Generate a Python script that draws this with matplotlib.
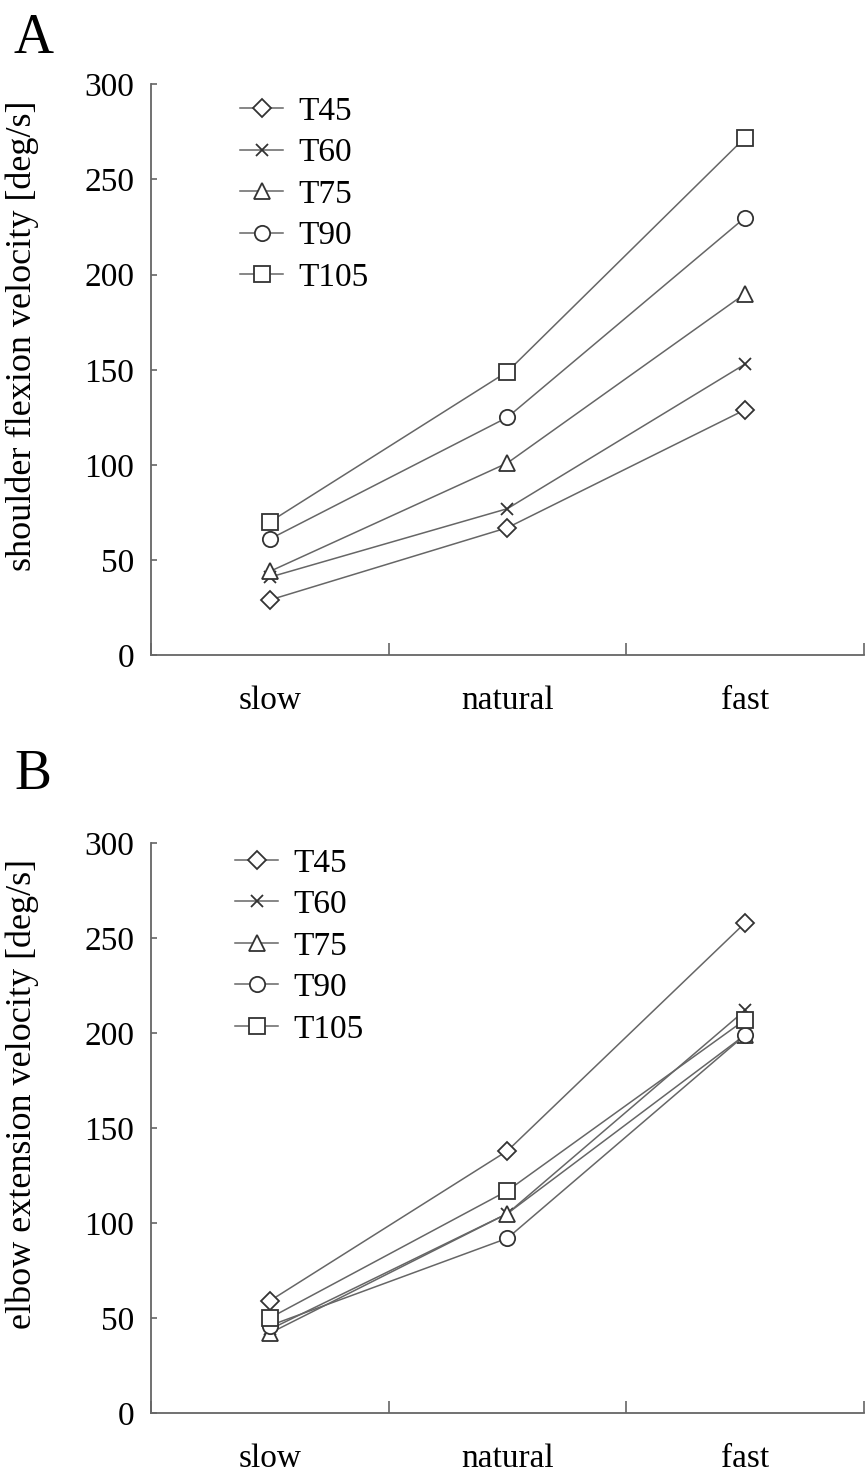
import numpy as np
import matplotlib.pyplot as plt

plt.rcParams['font.family'] = ['Liberation Serif', 'DejaVu Serif']

speeds = ['slow', 'natural', 'fast']
labels = ['T45', 'T60', 'T75', 'T90', 'T105']
markers = ['D', 'x', '^', 'o', 's']
msizes = [9, 9, 12, 11, 11]

# shoulder flexion velocity [deg/s]
shoulder_T45 = [29, 67, 129]
shoulder_T60 = [41, 77, 153]
shoulder_T75 = [44, 101, 190]
shoulder_T90 = [61, 125, 230]
shoulder_T105 = [70, 149, 272]

# elbow extension velocity [deg/s]
elbow_T45 = [59, 138, 258]
elbow_T60 = [44, 105, 212]
elbow_T75 = [42, 105, 199]
elbow_T90 = [46, 92, 199]
elbow_T105 = [50, 117, 207]

shoulder = [shoulder_T45, shoulder_T60, shoulder_T75, shoulder_T90, shoulder_T105]
elbow = [elbow_T45, elbow_T60, elbow_T75, elbow_T90, elbow_T105]

fig = plt.figure(figsize=(8.67, 14.79), dpi=100)
axA = fig.add_axes([0.174, 0.557, 0.8225, 0.386])
axB = fig.add_axes([0.174, 0.0446, 0.8225, 0.3854])

gray = '#666666'
x = np.arange(3) + 0.5
fs = 24


def panel(ax, data, ylabel, letter, letter_y, leg_pos):
    for vals, lab, m, ms in zip(data, labels, markers, msizes):
        ax.plot(x, vals, color=gray, lw=1.1, marker=m, ms=ms, mfc='white',
                mec='#333333', mew=1.3, label=lab)
    ax.set_xlim(0, 3)
    ax.set_ylim(0, 300)
    ax.set_yticks(range(0, 301, 50))
    ax.set_xticks([0, 1, 2, 3])
    ax.set_xticklabels([])
    ax.set_xticks(x, minor=True)
    ax.set_xticklabels(speeds, minor=True)
    ax.tick_params(axis='x', which='major', direction='in', length=9, color=gray, width=1.2)
    ax.tick_params(axis='x', which='minor', length=0, pad=22, labelsize=fs)
    ax.tick_params(axis='y', direction='in', length=4, color=gray, width=1.2, labelsize=fs, pad=12)
    for s in ['top', 'right']:
        ax.spines[s].set_visible(False)
    for s in ['left', 'bottom']:
        ax.spines[s].set_color(gray)
        ax.spines[s].set_linewidth(1.3)
    ax.set_ylabel(ylabel, fontsize=26)
    ax.yaxis.set_label_coords(-0.157, 0.56)
    ax.text(-0.165, letter_y, letter, transform=ax.transAxes, fontsize=40, va='center', ha='center')
    ax.legend(loc='upper left', bbox_to_anchor=leg_pos, frameon=False, fontsize=fs,
              handlelength=1.3, handletextpad=0.45, labelspacing=0.33,
              borderaxespad=0, borderpad=0)


panel(axA, shoulder, 'shoulder flexion velocity [deg/s]', 'A', 1.08, (0.125, 0.979))
panel(axB, elbow, 'elbow extension velocity [deg/s]', 'B', 1.119, (0.118, 0.991))

fig.savefig('out.png', dpi=100)
